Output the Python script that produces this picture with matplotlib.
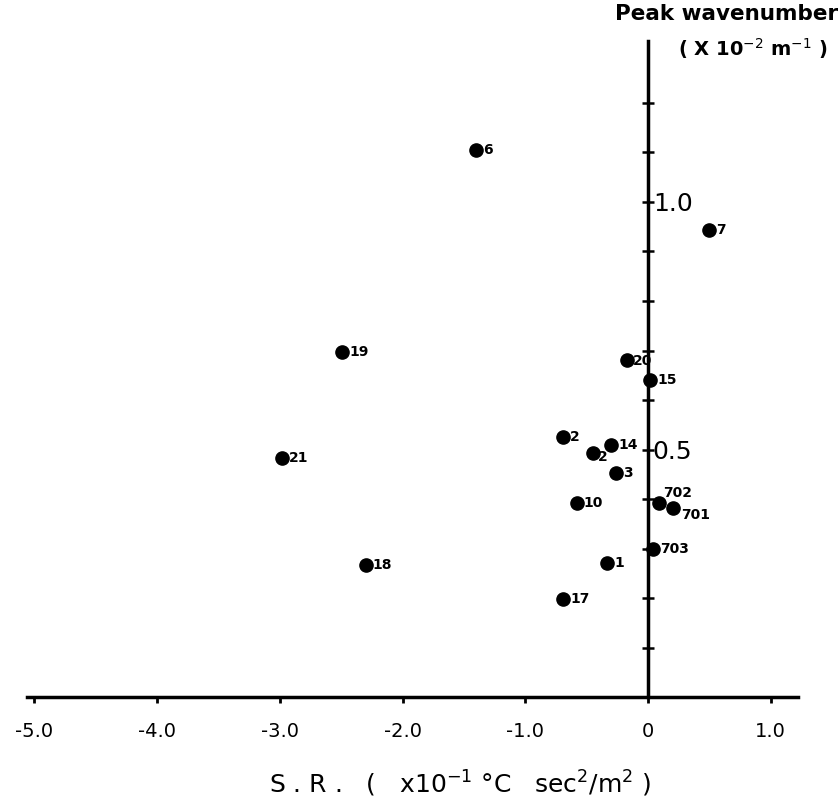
import matplotlib
matplotlib.use('Agg')
import matplotlib.pyplot as plt

# S.R. (x10^-1 degC sec^2/m^2) vs peak wavenumber (x10^-2 m^-1)
sr = [-1.40, 0.50, -2.49, -0.17, 0.02, -0.69, -0.30, -0.45, -0.26,
      -0.58, 0.09, 0.20, 0.04, -0.33, -0.69, -2.98, -2.30]
wavenumber = [1.105, 0.943, 0.697, 0.681, 0.640, 0.525, 0.509, 0.493, 0.452,
              0.392, 0.392, 0.382, 0.299, 0.270, 0.198, 0.483, 0.267]
case_ids = ['6', '7', '19', '20', '15', '2', '14', '2', '3',
            '10', '702', '701', '703', '1', '17', '21', '18']

xticks = [-5.0, -4.0, -3.0, -2.0, -1.0, 0.0, 1.0]
xticklabels = ['-5.0', '-4.0', '-3.0', '-2.0', '-1.0', '0', '1.0']
yticks = [0.1, 0.2, 0.3, 0.4, 0.5, 0.6, 0.7, 0.8, 0.9, 1.0, 1.1, 1.2]
yticklabels = ['', '', '', '', '0.5', '', '', '', '', '1.0', '', '']

fig = plt.figure(figsize=(8.4, 8.02), dpi=100)
ax = fig.add_axes([0, 0, 1, 1])
ax.set_xlim(-5.281, 1.565)
ax.set_ylim(-0.212, 1.408)

ax.plot(sr, wavenumber, 'o', color='black', markersize=9.5, zorder=3)

# label offsets in points (default right of the dot)
offsets = {10: (3, 7), 11: (6, -5), 3: (4, -1), 7: (4, -3)}
for i, name in enumerate(case_ids):
    dx, dy = offsets.get(i, (5, 0))
    ax.annotate(name, (sr[i], wavenumber[i]), xytext=(dx, dy),
                textcoords='offset points', ha='left', va='center',
                fontsize=10, fontweight='bold')

for s in ['top', 'right']:
    ax.spines[s].set_visible(False)
ax.spines['bottom'].set_position(('data', 0))
ax.spines['left'].set_position(('data', 0))
ax.spines['bottom'].set_bounds(-5.06, 1.22)
ax.spines['left'].set_bounds(0, 1.325)
ax.spines['bottom'].set_linewidth(2.5)
ax.spines['left'].set_linewidth(2.5)

ax.set_xticks(xticks, xticklabels, fontsize=14, fontweight='medium')
ax.tick_params(axis='x', direction='out', length=4, width=2, pad=14)
ax.set_yticks(yticks, yticklabels, fontsize=18)
ax.tick_params(axis='y', direction='inout', length=9, width=1.8, pad=-8)
for lab in ax.get_yticklabels():
    lab.set_ha('left')

ax.text(0.998, 0.995, 'Peak wavenumber', transform=ax.transAxes,
        ha='right', va='top', fontsize=15.5, fontweight='bold')
ax.text(0.985, 0.955, r'( X 10$^{-2}$ m$^{-1}$ )', transform=ax.transAxes,
        ha='right', va='top', fontsize=14, fontweight='bold')
ax.text(0.548, 0.022, r'S . R .   (   x10$^{-1}$ °C   sec$^{2}$/m$^{2}$ )',
        transform=ax.transAxes, ha='center', va='center', fontsize=18)

fig.savefig('out.png', dpi=100)
